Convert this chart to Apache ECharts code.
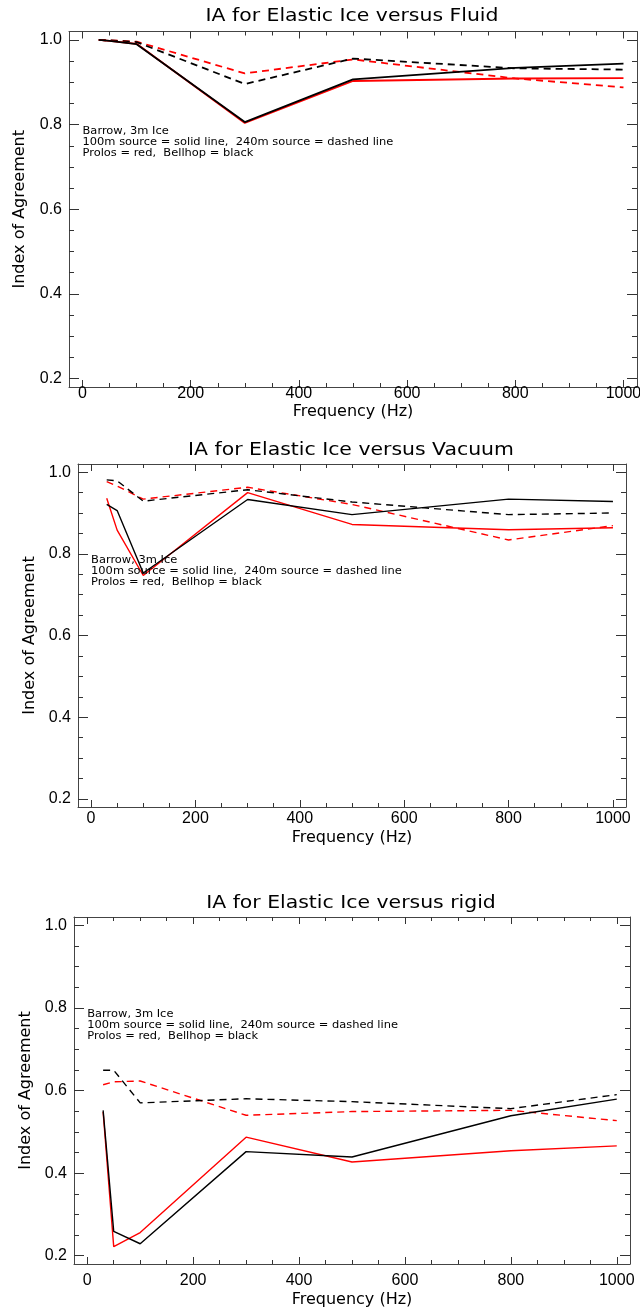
<!DOCTYPE html>
<html>
<head>
<meta charset="utf-8">
<script src="https://cdn.jsdelivr.net/npm/echarts@6/dist/echarts.min.js"></script>
<style>
  html, body { margin: 0; padding: 0; background: #ffffff; }
  #chart { width: 640px; height: 1307px; }
</style>
</head>
<body>
<div id="chart"></div>
<script>
// Frequencies (Hz) at which the index of agreement was computed
const freqs = [30, 50, 100, 300, 500, 800, 1000];

// Elastic ice versus fluid
const fluidProlos100  = [1.000, 0.998, 0.991, 0.804, 0.903, 0.909, 0.910];
const fluidBellhop100 = [1.000, 0.998, 0.990, 0.806, 0.907, 0.934, 0.944];
const fluidProlos240  = [1.000, 0.999, 0.996, 0.921, 0.954, 0.909, 0.888];
const fluidBellhop240 = [1.000, 0.999, 0.995, 0.896, 0.956, 0.933, 0.930];

// Elastic ice versus vacuum
const vacProlos100  = [0.936, 0.858, 0.747, 0.950, 0.872, 0.859, 0.864];
const vacBellhop100 = [0.921, 0.906, 0.753, 0.933, 0.896, 0.934, 0.928];
const vacProlos240  = [0.977, 0.966, 0.934, 0.963, 0.921, 0.834, 0.869];
const vacBellhop240 = [0.981, 0.979, 0.929, 0.957, 0.927, 0.896, 0.900];

// Elastic ice versus rigid
const rigProlos100  = [0.548, 0.222, 0.256, 0.487, 0.427, 0.454, 0.466];
const rigBellhop100 = [0.552, 0.259, 0.229, 0.452, 0.439, 0.539, 0.579];
const rigProlos240  = [0.614, 0.621, 0.623, 0.540, 0.549, 0.552, 0.527];
const rigBellhop240 = [0.649, 0.649, 0.570, 0.580, 0.573, 0.556, 0.590];

// Tick positions
const xMajorTicks = [0, 200, 400, 600, 800, 1000];
const xMinorTicks = [50, 100, 150, 250, 300, 350, 450, 500, 550, 650, 700, 750, 850, 900, 950];
const yMajorTicks = [0.2, 0.4, 0.6, 0.8, 1.0];
const yMinorTicks = [0.25, 0.3, 0.35, 0.45, 0.5, 0.55, 0.65, 0.7, 0.75, 0.85, 0.9, 0.95];

const panelTitles = [
  'IA for Elastic Ice versus Fluid',
  'IA for Elastic Ice versus Vacuum',
  'IA for Elastic Ice versus rigid'
];
const noteLines = [
  'Barrow, 3m Ice',
  '100m source = solid line,  240m source = dashed line',
  'Prolos = red,  Bellhop = black'
];
const xName = 'Frequency (Hz)';
const yName = 'Index of Agreement';

const panels = [
  [fluidProlos100, fluidBellhop100, fluidProlos240, fluidBellhop240],
  [vacProlos100, vacBellhop100, vacProlos240, vacBellhop240],
  [rigProlos100, rigBellhop100, rigProlos240, rigBellhop240]
];

// Layout of the three plot boxes
const boxes = [
  { left: 69, top: 31.5, width: 568, height: 355.5, yNameGap: 41, xLabelMargin: -1, xNameGap: 17, titleY: 17,  lineW: 1.8 },
  { left: 78, top: 464,  width: 548, height: 343,   yNameGap: 39, xLabelMargin: 4,  xNameGap: 23, titleY: 451, lineW: 1.4 },
  { left: 74, top: 917,  width: 556, height: 347,   yNameGap: 40, xLabelMargin: 9,  xNameGap: 28, titleY: 904, lineW: 1.4 }
];

const X_MIN = -25, X_MAX = 1025, Y_MIN = 0.18, Y_MAX = 1.02;
const FRAME = '#444444';
const TICK = '#333333';
const LABEL_FONT = '"Liberation Sans", Arial, sans-serif';
const TEXT_FONT = '"DejaVu Sans", sans-serif';

const grids = [], xAxes = [], yAxes = [], series = [];

boxes.forEach((b, g) => {
  grids.push({ left: b.left, top: b.top, width: b.width, height: b.height, outerBoundsMode: 'none', containLabel: false });

  const xBase = { gridIndex: g, type: 'value', min: X_MIN, max: X_MAX, splitLine: { show: false } };
  const yBase = { gridIndex: g, type: 'value', min: Y_MIN, max: Y_MAX, splitLine: { show: false } };

  const xMajorIdx = xAxes.length;
  xAxes.push(Object.assign({}, xBase, {
    position: 'bottom',
    axisLine: { show: true, onZero: false, lineStyle: { color: FRAME, width: 1 } },
    axisTick: { show: true, inside: true, length: 7, customValues: xMajorTicks, lineStyle: { color: TICK } },
    axisLabel: { show: true, customValues: xMajorTicks, margin: b.xLabelMargin, color: '#000',
                 fontFamily: LABEL_FONT, fontSize: 16, formatter: v => String(v) },
    name: xName, nameLocation: 'middle', nameGap: b.xNameGap,
    nameTextStyle: { color: '#000', fontFamily: TEXT_FONT, fontSize: 16 }
  }));
  xAxes.push(Object.assign({}, xBase, {
    position: 'bottom',
    axisLine: { show: false, onZero: false },
    axisTick: { show: true, inside: true, length: 4, customValues: xMinorTicks, lineStyle: { color: TICK } },
    axisLabel: { show: false }
  }));
  xAxes.push(Object.assign({}, xBase, {
    position: 'top',
    axisLine: { show: true, onZero: false, lineStyle: { color: FRAME, width: 1 } },
    axisTick: { show: true, inside: true, length: 7, customValues: xMajorTicks, lineStyle: { color: TICK } },
    axisLabel: { show: false }
  }));
  xAxes.push(Object.assign({}, xBase, {
    position: 'top',
    axisLine: { show: false, onZero: false },
    axisTick: { show: true, inside: true, length: 4, customValues: xMinorTicks, lineStyle: { color: TICK } },
    axisLabel: { show: false }
  }));

  const yMajorIdx = yAxes.length;
  yAxes.push(Object.assign({}, yBase, {
    position: 'left',
    axisLine: { show: true, onZero: false, lineStyle: { color: FRAME, width: 1 } },
    axisTick: { show: true, inside: true, length: 10, customValues: yMajorTicks, lineStyle: { color: TICK } },
    axisLabel: { show: true, customValues: yMajorTicks, margin: 7, color: '#000', fontFamily: LABEL_FONT, fontSize: 16,
                 formatter: v => v.toFixed(1) },
    name: yName, nameLocation: 'middle', nameGap: b.yNameGap, nameRotate: 90,
    nameTextStyle: { color: '#000', fontFamily: TEXT_FONT, fontSize: 16 }
  }));
  yAxes.push(Object.assign({}, yBase, {
    position: 'left',
    axisLine: { show: false, onZero: false },
    axisTick: { show: true, inside: true, length: 5, customValues: yMinorTicks, lineStyle: { color: TICK } },
    axisLabel: { show: false }
  }));
  yAxes.push(Object.assign({}, yBase, {
    position: 'right',
    axisLine: { show: true, onZero: false, lineStyle: { color: FRAME, width: 1 } },
    axisTick: { show: true, inside: true, length: 10, customValues: yMajorTicks, lineStyle: { color: TICK } },
    axisLabel: { show: false }
  }));
  yAxes.push(Object.assign({}, yBase, {
    position: 'right',
    axisLine: { show: false, onZero: false },
    axisTick: { show: true, inside: true, length: 5, customValues: yMinorTicks, lineStyle: { color: TICK } },
    axisLabel: { show: false }
  }));

  // Red = Prolos, black = Bellhop; solid = 100 m source, dashed = 240 m source
  const [p100, b100, p240, b240] = panels[g];
  const styles = [
    { vals: p240, color: '#ff0000', type: [7, 5] },
    { vals: b240, color: '#000000', type: [7, 5] },
    { vals: p100, color: '#ff0000', type: 'solid' },
    { vals: b100, color: '#000000', type: 'solid' }
  ];
  styles.forEach(s => {
    series.push({
      type: 'line',
      xAxisIndex: xMajorIdx,
      yAxisIndex: yMajorIdx,
      data: freqs.map((f, i) => [f, s.vals[i]]),
      showSymbol: false,
      symbol: 'none',
      silent: true,
      lineStyle: { color: s.color, width: b.lineW, type: s.type },
      z: 3
    });
  });
});

const chart = echarts.init(document.getElementById('chart'), null, { renderer: 'canvas' });
chart.setOption({
  animation: false,
  backgroundColor: '#ffffff',
  grid: grids,
  xAxis: xAxes,
  yAxis: yAxes,
  series: series
});

// Titles above each box (drawn a little wide, like a stroke font) and the note in data space
const graphics = [];
boxes.forEach((b, g) => {
  graphics.push({
    type: 'text',
    x: b.left + b.width / 2 - 1,
    y: b.titleY,
    scaleX: 1.2,
    style: {
      text: panelTitles[g],
      fill: '#000',
      font: '17px ' + TEXT_FONT,
      textAlign: 'center',
      textVerticalAlign: 'middle'
    }
  });
  const anchor = chart.convertToPixel({ xAxisIndex: g * 4, yAxisIndex: g * 4 }, [0, 0.784]);
  noteLines.forEach((line, k) => {
    graphics.push({
      type: 'text',
      x: anchor[0],
      y: anchor[1] + k * 10.7,
      scaleX: 1.04,
      style: {
        text: line,
        fill: '#000',
        font: '11px ' + TEXT_FONT,
        textAlign: 'left',
        textVerticalAlign: 'middle'
      },
      z: 10
    });
  });
});
chart.setOption({ graphic: graphics });
</script>
</body>
</html>
